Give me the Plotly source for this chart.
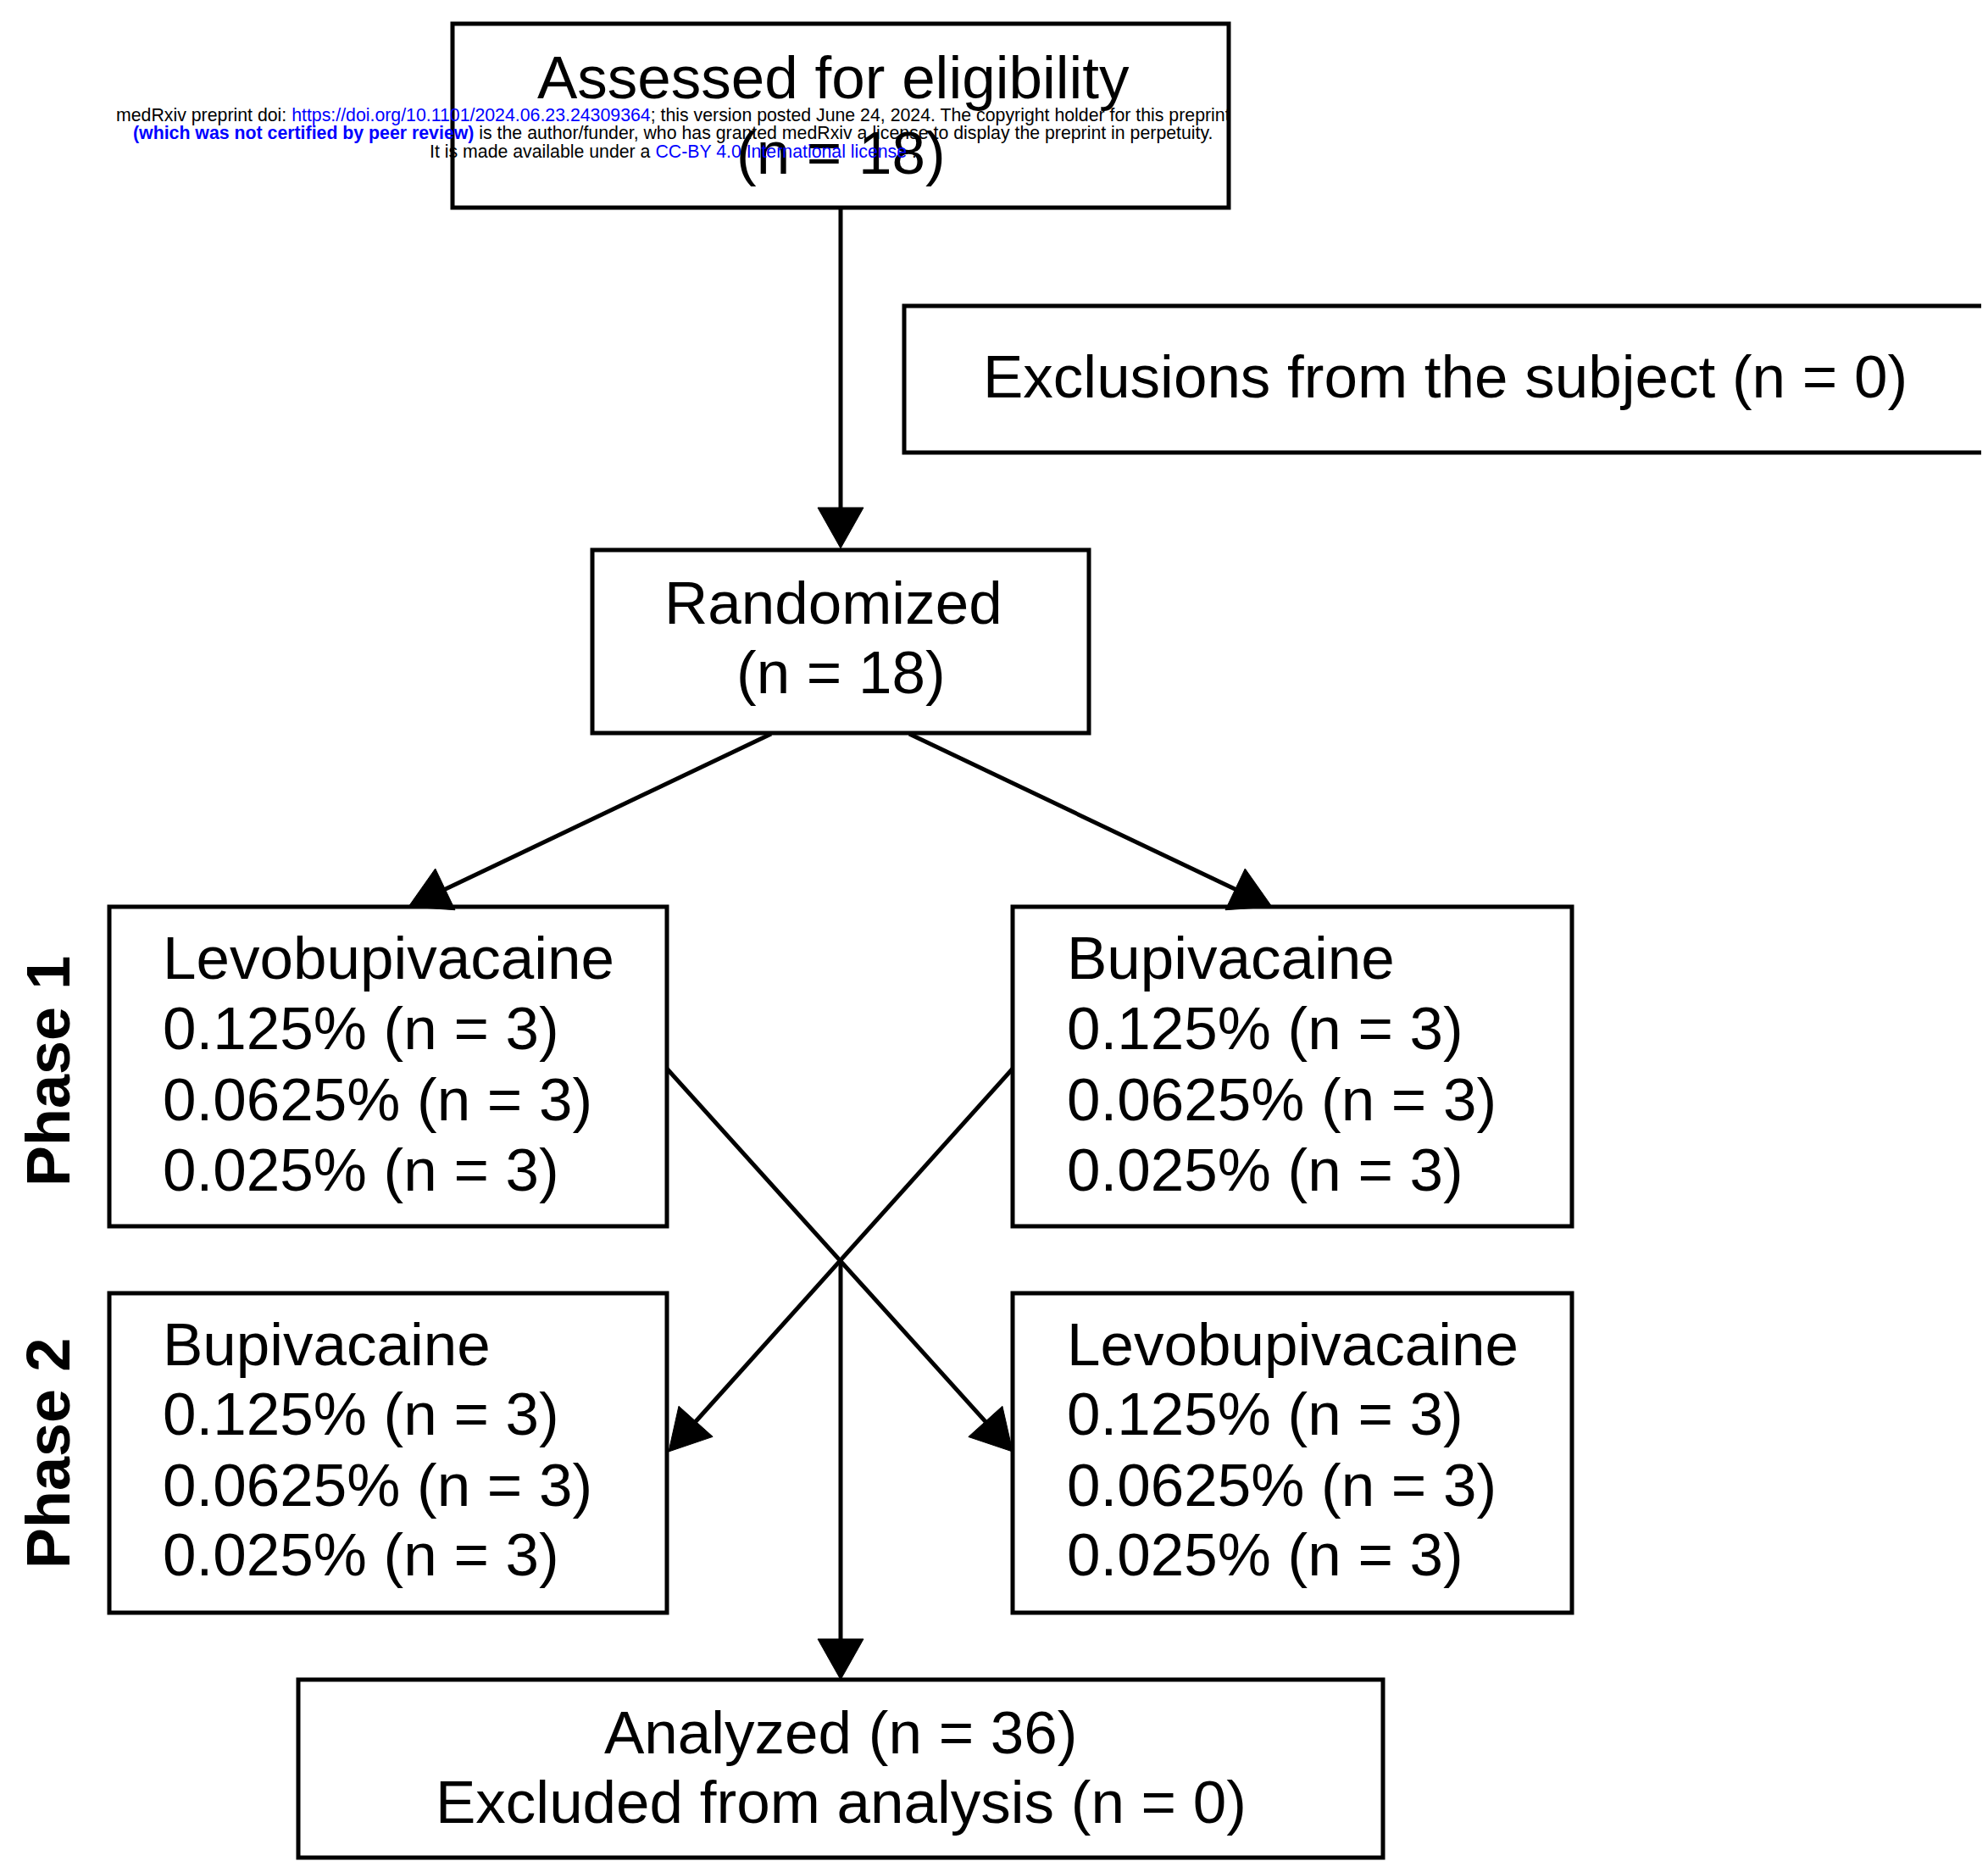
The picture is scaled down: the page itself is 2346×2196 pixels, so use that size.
import math
import plotly.graph_objects as go

# ---------------- data (texts) ----------------
top_lines = ["Assessed for eligibility", "(n = 18)"]
excl_lines = ["Exclusions from the subject (n = 0)"]
rand_lines = ["Randomized", "(n = 18)"]
p1_left_lines = ["Levobupivacaine", "0.125% (n = 3)", "0.0625% (n = 3)", "0.025% (n = 3)"]
p1_right_lines = ["Bupivacaine", "0.125% (n = 3)", "0.0625% (n = 3)", "0.025% (n = 3)"]
p2_left_lines = ["Bupivacaine", "0.125% (n = 3)", "0.0625% (n = 3)", "0.025% (n = 3)"]
p2_right_lines = ["Levobupivacaine", "0.125% (n = 3)", "0.0625% (n = 3)", "0.025% (n = 3)"]
analyzed_lines = ["Analyzed (n = 36)", "Excluded from analysis (n = 0)"]
phase_labels = ["Phase 1", "Phase 2"]

wm_line1 = ("medRxiv preprint doi: <span style='color:#0000ff'>https://doi.org/10.1101/2024.06.23.24309364</span>; "
            "this version posted June 24, 2024. The copyright holder for this preprint")
wm_line2 = ("<b><span style='color:#0000ff'>(which was not certified by peer review)</span></b> "
            "is the author/funder, who has granted medRxiv a license to display the preprint in perpetuity.")
wm_line3 = ("It is made available under a <span style='color:#0000ff'>CC-BY 4.0 International license</span> .")
watermark_lines = [wm_line1, wm_line2, wm_line3]

# ---------------- layout (positions in page pixels) ----------------
W, H = 2346, 2196
OFF = 8  # page body margin
FONT = "Liberation Sans, Arial, Helvetica, sans-serif"
FS = 71
LW = 5

boxes = {
    "top": (534, 28, 1450, 245),
    "excl": (1067, 361, 2343, 534),
    "rand": (699, 649, 1285, 865),
    "p1l": (129, 1070, 787, 1447),
    "p1r": (1195, 1070, 1855, 1447),
    "p2l": (129, 1526, 787, 1903),
    "p2r": (1195, 1526, 1855, 1903),
    "ana": (352, 1982, 1632, 2192),
}

fig = go.Figure()
shapes = []
annotations = []

for key, (x0, y0, x1, y1) in boxes.items():
    shapes.append(dict(type="rect", xref="x", yref="y", x0=x0, y0=y0, x1=x1, y1=y1,
                       line=dict(color="black", width=LW), fillcolor="rgba(0,0,0,0)", layer="below"))


def add_lines(lines, xs, ys, anchor="center", size=FS):
    for t, x, y in zip(lines, xs, ys):
        annotations.append(dict(x=x, y=y, xref="x", yref="y", text=t,
                                showarrow=False, xanchor=anchor, yanchor="middle",
                                font=dict(family=FONT, size=size, color="black")))


CX = 992
add_lines(top_lines, [CX - 9, CX], [91, 180])
add_lines(excl_lines, [1705], [444])
add_lines(rand_lines, [CX - 9, CX], [711, 793])
p1_ys = [1130, 1213, 1297, 1380]
p2_ys = [1586, 1668, 1752, 1834]
add_lines(p1_left_lines, [190] * 4, p1_ys, anchor="left")
add_lines(p1_right_lines, [1257] * 4, p1_ys, anchor="left")
add_lines(p2_left_lines, [190] * 4, p2_ys, anchor="left")
add_lines(p2_right_lines, [1257] * 4, p2_ys, anchor="left")
add_lines(analyzed_lines, [CX, CX], [2044, 2126])

for lab, yc in zip(phase_labels, [1264, 1715]):
    annotations.append(dict(x=57, y=yc, xref="x", yref="y", text="<b>%s</b>" % lab, showarrow=False,
                            textangle=-90, xanchor="center", yanchor="middle",
                            font=dict(family=FONT, size=72, color="black")))


def arrow(x0, y0, x1, y1, L=48, HW=27):
    dx, dy = x1 - x0, y1 - y0
    n = math.hypot(dx, dy)
    ux, uy = dx / n, dy / n
    bx, by = x1 - L * ux, y1 - L * uy
    px, py = -uy, ux
    shapes.append(dict(type="line", xref="x", yref="y", x0=x0, y0=y0, x1=bx + ux * 4, y1=by + uy * 4,
                       line=dict(color="black", width=LW)))
    path = "M %f %f L %f %f L %f %f Z" % (x1, y1, bx + HW * px, by + HW * py, bx - HW * px, by - HW * py)
    shapes.append(dict(type="path", xref="x", yref="y", path=path, fillcolor="black",
                       line=dict(color="black", width=1)))


arrow(CX, 245, CX, 647)
arrow(910, 866, 482, 1070)
arrow(1073, 866, 1501, 1070)
arrow(787, 1261, 1195, 1713)
arrow(1195, 1261, 789, 1713)
arrow(CX, 1489, CX, 1982)

for t, y in zip(watermark_lines, [136, 157, 179]):
    annotations.append(dict(x=794, y=y, xref="x", yref="y", text=t, showarrow=False,
                            xanchor="center", yanchor="middle",
                            font=dict(family=FONT, size=21.3, color="black")))

fig.update_layout(
    width=W - OFF, height=H - OFF, margin=dict(l=0, r=0, t=0, b=0),
    paper_bgcolor="white", plot_bgcolor="white",
    xaxis=dict(range=[OFF, W], visible=False, fixedrange=True),
    yaxis=dict(range=[H, OFF], visible=False, fixedrange=True),
    shapes=shapes, annotations=annotations, showlegend=False,
)
fig.write_html("out.html")
